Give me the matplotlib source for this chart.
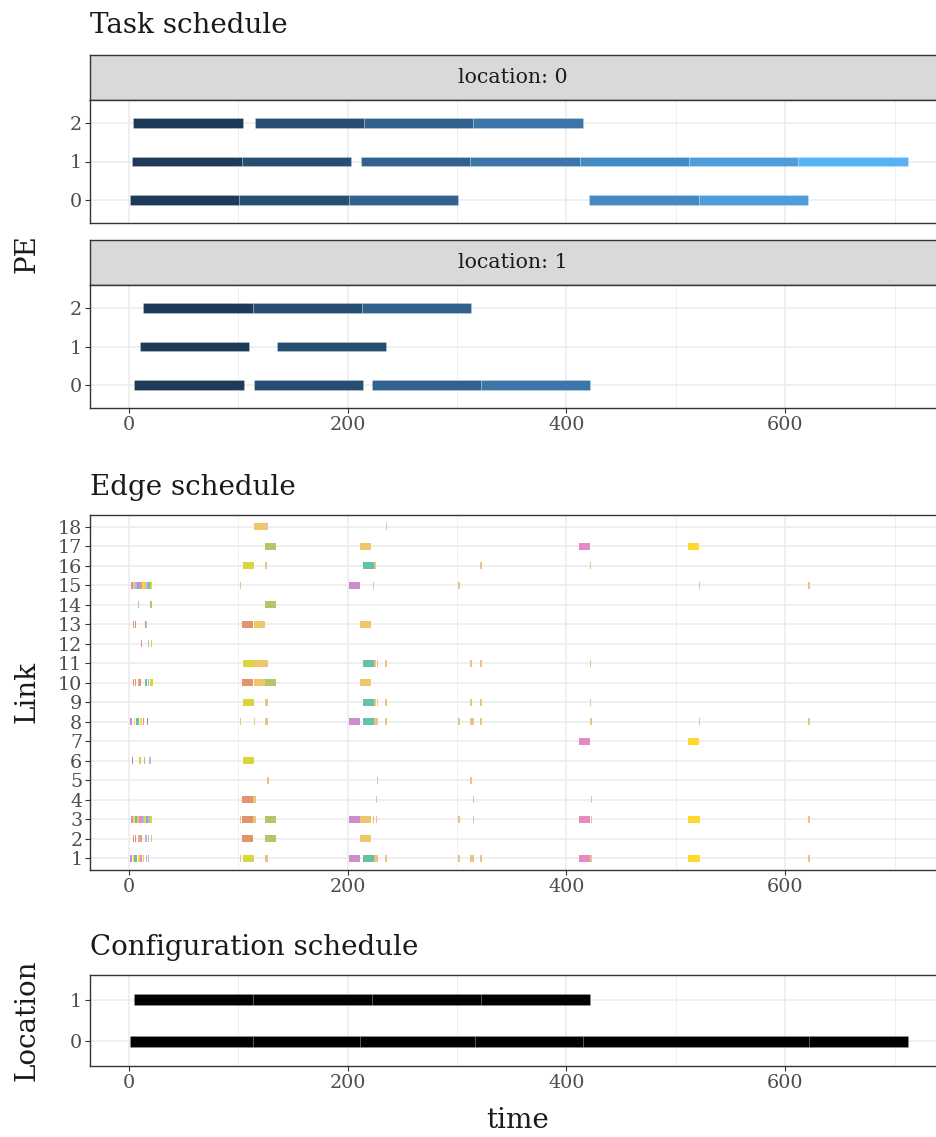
import matplotlib
matplotlib.use("Agg")
import matplotlib.pyplot as plt
from matplotlib.colors import LinearSegmentedColormap, Normalize

plt.rcParams['font.family'] = ['DejaVu Serif', 'Liberation Serif']

# ---------------- data ----------------
# task schedule: location, PE, start, end, iteration (colour)
task_loc   = [0, 0, 0, 0,   0, 0, 0, 0, 0, 0, 0,   0, 0, 0, 0, 0,
              1, 1, 1,   1, 1,   1, 1, 1, 1]
task_pe    = [2, 2, 2, 2,   1, 1, 1, 1, 1, 1, 1,   0, 0, 0, 0, 0,
              2, 2, 2,   1, 1,   0, 0, 0, 0]
task_start = [4, 115, 215, 315,   3, 103, 212, 312, 412, 512, 612,   1, 101, 201, 421, 521,
              13, 113, 213,   10, 135,   5, 114, 222, 322]
task_end   = [104, 215, 315, 415,   103, 203, 312, 412, 512, 612, 712,   101, 201, 301, 521, 621,
              113, 213, 313,   110, 235,   105, 214, 322, 422]
task_iter  = [0, 1, 2, 3,   0, 1, 2, 3, 4, 5, 6,   0, 1, 2, 4, 5,
              0, 1, 2,   0, 1,   0, 1, 2, 3]

# edge schedule colours
edge_palette = {
    'A': '#EFC76A', 'B': '#B3C66A', 'C': '#D8D63C', 'D': '#66C2A5',
    'E': '#E0956A', 'F': '#CC8FCC', 'G': '#E68AC3', 'H': '#FFD92F',
    'T': '#E9C285', 'L': '#B3B6DD', 'P': '#E8A8A0', 'M': '#B08898',
}
# edges: link, start, end, colour key
edge_link, edge_start, edge_end, edge_col = [], [], [], []
def _add(link, items):
    for s, e, c in items:
        edge_link.append(link); edge_start.append(s); edge_end.append(e); edge_col.append(c)

_add(18, [(114.5, 124.2, 'A'), (124.2, 127.5, 'T'), (235, 236.3, 'T')])
_add(17, [(124.5, 134.5, 'B'), (211.6, 221.6, 'A'), (411.3, 421.3, 'G'), (511.5, 521.5, 'H')])
_add(16, [(104.4, 114.5, 'C'), (124.5, 125.8, 'T'), (213.7, 223.7, 'D'), (224.5, 225.8, 'T'),
          (321.2, 322.5, 'T'), (421.1, 422.4, 'T')])
_add(15, [(1.5, 3.5, 'F'), (3.5, 5.5, 'A'), (5.5, 7.5, 'L'), (7.5, 9.5, 'D'), (9.5, 11.5, 'G'),
          (11.5, 13.5, 'H'), (13.5, 15.5, 'A'), (15.5, 17.5, 'L'), (17.5, 19.5, 'D'), (19.5, 21.5, 'C'),
          (101.2, 102.5, 'T'), (201.5, 211.5, 'F'), (223.2, 224.5, 'T'), (301.2, 302.5, 'T'),
          (521.2, 522.5, 'T'), (621.1, 622.4, 'T')])
_add(14, [(8.3, 9.6, 'P'), (19.5, 20.8, 'B'), (124.5, 134.5, 'B')])
_add(13, [(3.5, 4.8, 'E'), (5.2, 6.5, 'E'), (14.7, 15.7, 'D'), (15.7, 16.7, 'A'),
          (103.5, 113.5, 'E'), (114.5, 124.2, 'A'), (211.6, 221.6, 'A')])
_add(12, [(11.1, 12.4, 'E'), (17.2, 18.5, 'L'), (20.2, 21.5, 'C')])
_add(11, [(104.4, 114.5, 'C'), (114.5, 124.2, 'A'), (124.2, 127.5, 'T'), (213.7, 223.7, 'D'),
          (224.5, 225.8, 'T'), (226.4, 227.7, 'T'), (234.5, 235.8, 'T'), (312.1, 313.4, 'T'),
          (321.2, 322.5, 'T'), (421.1, 422.4, 'T')])
_add(10, [(3.5, 4.8, 'E'), (5.2, 6.5, 'E'), (8.3, 9.6, 'P'), (9.6, 10.9, 'E'), (15.0, 16.3, 'D'),
          (17.2, 18.5, 'L'), (19.0, 20.3, 'C'), (20.5, 21.8, 'C'),
          (103.5, 113.5, 'E'), (114.5, 124.2, 'A'), (124.5, 134.5, 'B'), (211.6, 221.6, 'A')])
_add(9, [(104.4, 114.5, 'C'), (124.2, 127.5, 'T'), (213.7, 223.7, 'D'), (224.5, 225.8, 'T'),
         (226.4, 227.7, 'T'), (234.5, 235.8, 'T'), (312.1, 313.4, 'T'), (321.2, 322.5, 'T'),
         (421.1, 422.4, 'T')])
_add(8, [(1.3, 2.6, 'F'), (4.3, 5.6, 'H'), (6.5, 7.6, 'D'), (7.7, 8.9, 'D'), (10.5, 11.8, 'H'),
         (12.5, 13.8, 'G'), (16.5, 17.8, 'M'),
         (101.2, 102.5, 'T'), (114.3, 115.6, 'T'), (124.2, 127.5, 'T'), (201.5, 211.5, 'F'),
         (213.7, 223.7, 'D'), (223.7, 227.4, 'T'), (234.5, 235.8, 'T'), (301.2, 302.5, 'T'),
         (312.1, 315.5, 'T'), (321.2, 322.5, 'T'), (421.1, 423.4, 'T'), (521.2, 522.5, 'T'),
         (621.1, 622.4, 'T')])
_add(7, [(411.3, 421.3, 'G'), (511.5, 521.5, 'H')])
_add(6, [(2.5, 3.8, 'M'), (9.5, 10.8, 'C'), (13.5, 14.8, 'B'), (18.7, 20.0, 'L'), (104.4, 114.5, 'C')])
_add(5, [(126.5, 127.8, 'T'), (226.4, 227.7, 'T'), (312.1, 313.4, 'T')])
_add(4, [(103.5, 113.5, 'E'), (113.5, 116.0, 'T'), (225.5, 226.8, 'T'), (314.3, 315.6, 'T'),
         (422.3, 423.6, 'T')])
_add(3, [(1.5, 3.5, 'F'), (3.5, 5.5, 'H'), (5.5, 7.5, 'D'), (7.5, 9.5, 'A'), (9.5, 11.5, 'G'),
         (11.5, 13.5, 'L'), (13.5, 15.5, 'A'), (15.5, 17.5, 'D'), (17.5, 19.5, 'L'), (19.5, 21.5, 'C'),
         (101.2, 102.5, 'T'), (103.5, 113.5, 'E'), (113.5, 116.0, 'T'), (124.5, 134.5, 'B'),
         (201.5, 211.5, 'F'), (211.6, 221.6, 'A'), (223.2, 224.5, 'T'), (225.5, 226.8, 'T'),
         (301.2, 302.5, 'T'), (314.3, 315.6, 'T'), (411.3, 421.3, 'G'), (422.3, 423.6, 'T'),
         (511.5, 522.4, 'H'), (621.1, 622.4, 'T')])
_add(2, [(3.5, 4.8, 'E'), (5.2, 6.5, 'E'), (8.3, 9.6, 'P'), (9.6, 10.9, 'P'), (11.1, 12.4, 'E'),
         (15.0, 16.3, 'L'), (17.2, 18.5, 'L'), (20.2, 21.5, 'C'),
         (103.5, 113.5, 'E'), (124.5, 134.5, 'B'), (211.6, 221.6, 'A')])
_add(1, [(1.3, 2.6, 'F'), (3.3, 4.6, 'H'), (5.0, 6.3, 'D'), (6.5, 7.8, 'D'), (8.5, 9.8, 'H'),
         (10.5, 11.8, 'G'), (12.5, 13.8, 'A'), (15.5, 16.8, 'L'), (17.0, 18.3, 'L'),
         (101.2, 102.5, 'T'), (104.4, 114.5, 'C'), (124.2, 127.5, 'T'), (201.5, 211.5, 'F'),
         (213.7, 223.7, 'D'), (223.7, 227.4, 'T'), (234.5, 235.8, 'T'), (301.2, 302.5, 'T'),
         (312.1, 315.5, 'T'), (321.2, 322.5, 'T'), (411.3, 421.3, 'G'), (421.3, 423.4, 'T'),
         (511.5, 522.4, 'H'), (621.1, 622.4, 'T')])

# configuration schedule
conf_loc   = [1, 1, 1, 1,   0, 0, 0, 0, 0, 0]
conf_start = [5, 113, 222, 322,   1, 113, 211, 316, 415, 622]
conf_end   = [113, 222, 322, 422,   113, 211, 316, 415, 622, 712]

x_ticks = [0, 200, 400, 600]
x_minor = [100, 300, 500, 700]
links = list(range(1, 19))

# ---------------- layout ----------------
W, H = 937, 1137
fig = plt.figure(figsize=(W / 100, H / 100), dpi=100)
fig.patch.set_facecolor('white')
XL = (-35.6, 747.6)
RIGHT = 946.6

def px_axes(l, t, r, b):
    return fig.add_axes([l / W, 1 - b / H, (r - l) / W, (b - t) / H])

TICK_FS = 13.8
TITLE_FS = 20
LAB_FS = 20
STRIP_FS = 14.8
GRID = '#EBEBEB'
BORDER = '#333333'
TXT = '#4D4D4D'
DARK = '#1A1A1A'

def style(ax, yticks, ylabels, ylim, show_x=True):
    ax.set_xlim(*XL)
    ax.set_ylim(*ylim)
    ax.set_xticks(x_ticks)
    ax.set_xticks(x_minor, minor=True)
    ax.set_yticks(yticks)
    ax.set_yticklabels(ylabels)
    ax.grid(which='major', color=GRID, linewidth=1.1, zorder=0)
    ax.grid(which='minor', axis='x', color=GRID, linewidth=0.55, zorder=0)
    ax.set_axisbelow(True)
    for s in ax.spines.values():
        s.set_color(BORDER)
        s.set_linewidth(1.0)
    ax.tick_params(axis='both', which='major', length=3.5, width=0.8, color=BORDER,
                   labelsize=TICK_FS, labelcolor=TXT, pad=2.5)
    ax.tick_params(axis='x', which='minor', length=0)
    if show_x:
        ax.set_xticklabels([str(v) for v in x_ticks])
    else:
        ax.tick_params(axis='x', which='major', labelbottom=False, length=0)

cmap = LinearSegmentedColormap.from_list('gg', ['#1D3A58', '#56B1F7'])
norm = Normalize(0, 6)

# Task schedule panels
task_boxes = {0: (55, 100, 223), 1: (240, 285, 408)}
for loc, (st, t, b) in task_boxes.items():
    sax = px_axes(90, st, RIGHT, t)
    sax.set_facecolor('#D9D9D9')
    sax.set_xticks([]); sax.set_yticks([])
    for s in sax.spines.values():
        s.set_color(BORDER); s.set_linewidth(1.0)
    sax.text((513 - 90) / (RIGHT - 90), 0.5, f'location: {loc}',
             transform=sax.transAxes, ha='center', va='center', fontsize=STRIP_FS, color=DARK)
    ax = px_axes(90, t, RIGHT, b)
    idx = [i for i in range(len(task_loc)) if task_loc[i] == loc]
    ax.barh([task_pe[i] for i in idx],
            [task_end[i] - task_start[i] for i in idx],
            left=[task_start[i] for i in idx], height=0.24,
            color=[cmap(norm(task_iter[i])) for i in idx],
            edgecolor=(1, 1, 1, 0.22), linewidth=0.7, zorder=3)
    style(ax, [0, 1, 2], ['0', '1', '2'], (-0.6, 2.6), show_x=(loc == 1))

fig.text(90 / W, 1 - 33 / H, 'Task schedule', fontsize=TITLE_FS, color=DARK, va='baseline')
fig.text(27 / W, 1 - 254 / H, 'PE', fontsize=LAB_FS, rotation=90, ha='center', va='center',
         color=DARK)

# Edge schedule
eax = px_axes(90, 515, RIGHT, 870)
eax.barh(edge_link, [e - s for s, e in zip(edge_start, edge_end)], left=edge_start,
         height=0.34, color=[edge_palette[c] for c in edge_col],
         edgecolor='none', linewidth=0, zorder=3)
style(eax, links, [str(v) for v in links], (0.4, 18.6))
eax.tick_params(axis='y', labelsize=TICK_FS, pad=2)
fig.text(90 / W, 1 - 495 / H, 'Edge schedule', fontsize=TITLE_FS, color=DARK, va='baseline')
fig.text(27 / W, 1 - 692 / H, 'Link', fontsize=LAB_FS, rotation=90, ha='center', va='center',
         color=DARK)

# Configuration schedule
cax = px_axes(90, 975, RIGHT, 1066)
cax.barh(conf_loc, [e - s for s, e in zip(conf_start, conf_end)], left=conf_start,
         height=0.26, color='black', edgecolor=(1, 1, 1, 0.12), linewidth=0.6, zorder=3)
style(cax, [0, 1], ['0', '1'], (-0.6, 1.6))
fig.text(90 / W, 1 - 955 / H, 'Configuration schedule', fontsize=TITLE_FS, color=DARK,
         va='baseline')
fig.text(27 / W, 1 - 1020 / H, 'Location', fontsize=LAB_FS, rotation=90, ha='center',
         va='center', color=DARK)
fig.text(518 / W, 1 - 1128 / H, 'time', fontsize=LAB_FS, ha='center', va='baseline',
         color=DARK)

fig.savefig('out.png', dpi=100, facecolor='white')
